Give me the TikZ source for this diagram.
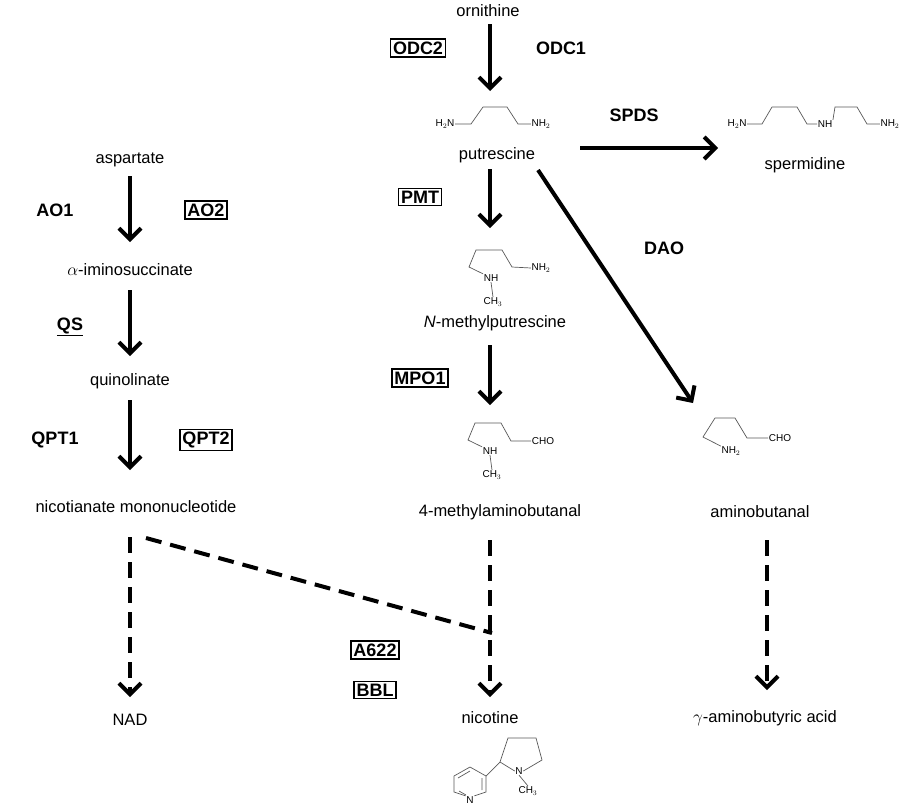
\documentclass[tikz,border=0pt]{standalone}
\usepackage{fontspec}
\setmainfont{Liberation Sans}
\usetikzlibrary{arrows.meta}
\begin{document}
\begin{tikzpicture}[x=1pt,y=-1pt,
  lbl/.style={inner sep=0pt,font=\fontsize{16.5}{19}\selectfont},
  enz/.style={inner sep=0pt,font=\fontsize{18}{21}\selectfont\bfseries},
  benz/.style={enz,draw,line width=1.3pt,inner sep=2.5pt},
  arr/.style={line width=4pt,-{Straight Barb[length=11pt,width=22pt,line width=4pt]}},
  darr/.style={arr,dash pattern=on 16pt off 9pt},
  bond/.style={line width=0.7pt,gray!70!black},
  atom/.style={inner sep=0.5pt,font=\fontsize{10}{11}\selectfont}]
\useasboundingbox (0,0) rectangle (907,807);
% labels
\node[lbl] (orn) at (488,11) {ornithine};
\node[lbl] (put) at (497,155) {putrescine};
\node[lbl] (spd) at (805,165) {spermidine};
\node[lbl] (nmp) at (495,323) {\textit{N}-methylputrescine};
\node[lbl] (mab) at (500,512) {4-methylaminobutanal};
\node[lbl] (amb) at (760,512) {aminobutanal};
\node[lbl] (asp) at (130,160) {aspartate};
\node[lbl] (ais) at (130,270) {$\alpha$-iminosuccinate};
\node[lbl] (qui) at (130,381) {quinolinate};
\node[lbl] (nmn) at (136,507) {nicotianate mononucleotide};
\node[lbl] (nad) at (130,720) {NAD};
\node[lbl] (nic) at (490,718) {nicotine};
\node[lbl] (gab) at (765,718) {$\gamma$-aminobutyric acid};
% enzymes
\node[benz] (odc2) at (418,48) {ODC2};
\node[enz] (odc1) at (561,48) {ODC1};
\node[enz] (spds) at (634,115) {SPDS};
\node[benz] (pmt) at (420,197) {PMT};
\node[enz] (dao) at (664,248) {DAO};
\node[benz] (mpo1) at (420,378) {MPO1};
\node[enz] (ao1) at (55,210) {AO1};
\node[benz] (ao2) at (206,210) {AO2};
\node[enz] (qs) at (70,327) {\underline{QS}};
\node[enz] (qpt1) at (55,440) {QPT1};
\node[benz] (qpt2) at (206,440) {QPT2};
\node[benz] (a622) at (375,650) {A622};
\node[benz] (bbl) at (375,690) {BBL};
% arrow coordinates
\coordinate (a1s) at (490,24); \coordinate (a1e) at (490,91);
\coordinate (a2s) at (580,148); \coordinate (a2e) at (718,148);
\coordinate (a3s) at (490,169); \coordinate (a3e) at (490,228);
\coordinate (a4s) at (490,345); \coordinate (a4e) at (490,405);
\coordinate (a5s) at (538,170); \coordinate (a5e) at (693,403);
\coordinate (b1s) at (130,176); \coordinate (b1e) at (130,242);
\coordinate (b2s) at (130,290); \coordinate (b2e) at (130,356);
\coordinate (b3s) at (130,400); \coordinate (b3e) at (130,470);
\coordinate (d1s) at (130,537); \coordinate (d1e) at (130,697);
\coordinate (d2s) at (490,540); \coordinate (d2e) at (490,697);
\coordinate (d3s) at (767,540); \coordinate (d3e) at (767,690);
\coordinate (dls) at (146,538); \coordinate (dle) at (492,633);
\draw[arr] (a1s) -- (a1e);
\draw[arr] (a2s) -- (a2e);
\draw[arr] (a3s) -- (a3e);
\draw[arr] (a4s) -- (a4e);
\draw[arr] (a5s) -- (a5e);
\draw[arr] (b1s) -- (b1e);
\draw[arr] (b2s) -- (b2e);
\draw[arr] (b3s) -- (b3e);
\draw[darr] (d1s) -- (d1e);
\draw[darr] (d2s) -- (d2e);
\draw[darr] (d3s) -- (d3e);
\draw[line width=4pt,dash pattern=on 16pt off 9pt] (dls) -- (dle);
% putrescine structure
\node[atom] (p1) at (445,124) {H$_2$N};
\node[atom] (p2) at (541,124) {NH$_2$};
\draw[bond] (p1.east) -- (471,124) -- (483,107) -- (507,107) -- (518,124) -- (p2.west);
% spermidine
\node[atom] (s1) at (737,124) {H$_2$N};
\node[atom] (s2) at (825,124) {NH};
\node[atom] (s3) at (890,124) {NH$_2$};
\draw[bond] (s1.east) -- (762,124) -- (772,107) -- (797,107) -- (807,124) -- (s2.west);
\draw[bond] (s2.north east) -- (835,107) -- (857,107) -- (867,124) -- (s3.west);
% N-methylputrescine
\node[atom] (m1) at (491,278) {NH};
\node[atom] (m2) at (493,302) {CH$_3$};
\node[atom] (m3) at (541,268) {NH$_2$};
\draw[bond] (m1.north west) -- (469,267) -- (476,250) -- (502,250) -- (512,267) -- (m3.west);
\draw[bond] (m1.south) -- (m2.north);
% 4-methylaminobutanal
\node[atom] (k1) at (490,451) {NH};
\node[atom] (k2) at (492,475) {CH$_3$};
\node[atom] (k3) at (543,441) {CHO};
\draw[bond] (k1.north west) -- (468,440) -- (475,423) -- (501,423) -- (511,441) -- (k3.west);
\draw[bond] (k1.south) -- (k2.north);
% aminobutanal
\node[atom] (n1) at (731,451) {NH$_2$};
\node[atom] (n2) at (780,438) {CHO};
\draw[bond] (n1.north west) -- (703,437) -- (715,418) -- (735,418) -- (747,438) -- (n2.west);
% nicotine
\node[atom] (pn) at (470,800) {N};
\node[atom] (nn) at (519,771) {N};
\node[atom] (nc) at (528,791) {CH$_3$};
\draw[bond] (pn.north east) -- (486,792) -- (486,776) -- (470,767) -- (454,776) -- (454,792) -- (pn.north west);
\draw[bond] (458,778) -- (470,771) (482,778) -- (482,790) (466,795) -- (459,791);
\draw[bond] (486,776) -- (500,762) -- (508,738) -- (536,738) -- (542,760) -- (nn.east);
\draw[bond] (500,762) -- (nn.west);
\draw[bond] (nn.south) -- (nc.north);
\end{tikzpicture}
\end{document}
